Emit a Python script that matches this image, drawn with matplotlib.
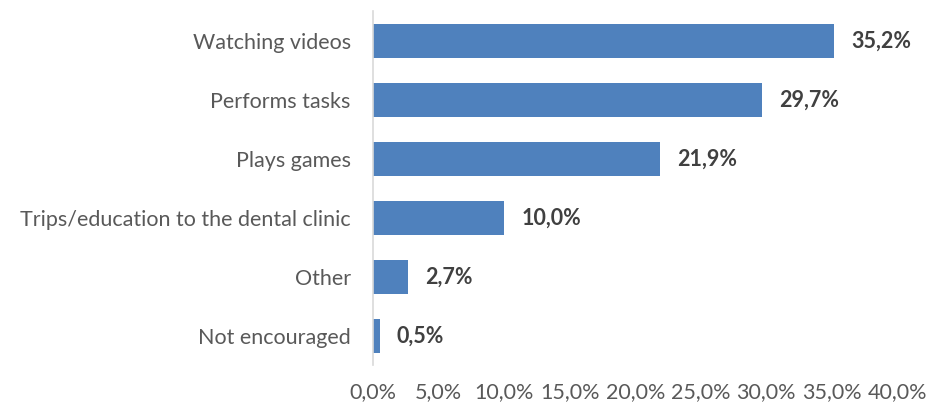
import matplotlib.pyplot as plt
from matplotlib.ticker import FuncFormatter

categories = ['Watching videos', 'Performs tasks', 'Plays games',
              'Trips/education to the dental clinic', 'Other', 'Not encouraged']
values = [35.2, 29.7, 21.9, 10.0, 2.7, 0.5]
xticks = [0, 5, 10, 15, 20, 25, 30, 35, 40]

plt.rcParams['font.family'] = ['Lato', 'DejaVu Sans']

fig = plt.figure(figsize=(9.28, 4.07), dpi=100)
ax = fig.add_axes([0.402, 0.102, 0.565, 0.870])

pos = list(range(len(categories)))[::-1]
ax.barh(pos, values, height=0.58, color='#4F81BD')

for p, v in zip(pos, values):
    ax.text(v + 1.3, p, ('%.1f%%' % v).replace('.', ','), va='center', ha='left',
            fontsize=15.5, fontweight='bold', color='#404040')

ax.set_yticks(pos)
ax.set_yticklabels(categories, fontsize=15.5, color='#595959')
ax.set_ylim(-0.5, len(categories) - 0.5)
ax.set_xlim(0, 40)
ax.set_xticks(xticks)
ax.xaxis.set_major_formatter(FuncFormatter(lambda x, _: ('%.1f%%' % x).replace('.', ',')))
ax.tick_params(axis='x', labelsize=15.5, labelcolor='#595959', length=0, pad=12)
ax.tick_params(axis='y', length=0, pad=16)

for s in ['top', 'right', 'bottom']:
    ax.spines[s].set_visible(False)
ax.spines['left'].set_color('#D9D9D9')
ax.spines['left'].set_linewidth(1.2)

fig.savefig('out.png', dpi=100)
